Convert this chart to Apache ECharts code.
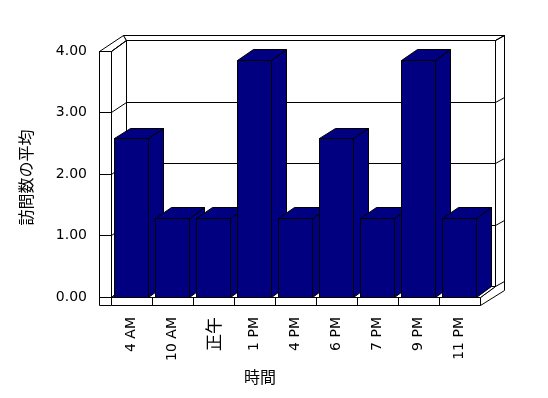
<!DOCTYPE html>
<html><head><meta charset="utf-8">
<script src="https://cdn.jsdelivr.net/npm/echarts@6/dist/echarts.min.js"></script>
<style>html,body{margin:0;padding:0;background:#fff}#c{width:548px;height:398px}</style>
</head><body><div id="c"></div>
<script>
const categories = ['4 AM', '10 AM', '正午', '1 PM', '4 PM', '6 PM', '7 PM', '9 PM', '11 PM'];
const visits = [2.57, 1.28, 1.28, 3.85, 1.28, 2.57, 1.28, 3.85, 1.28];
const yTicks = [0, 1, 2, 3, 4];
const xTitle = '時間';
const yTitle = '訪問数の平均';

const DX = 15.5, DY = -10.5;   // inner depth (floor / bars)
const DX2 = 24, DY2 = -15.5;   // outer depth (wall thickness)
const WALL = 11.5;             // left wall thickness
const FLOOR = 8.7;             // floor thickness
const BAR = '#000080';
const LATIN = '"DejaVu Sans", "Noto Sans CJK JP", sans-serif';
const CJK = '"Noto Sans CJK JP", sans-serif';

function s(v) { return Math.round(v - 0.5) + 0.5; }
function P(x, y) { return [s(x), s(y)]; }

function renderWalls(params, api) {
  const cs = params.coordSys;
  const L = cs.x, R = cs.x + cs.width, T = cs.y, B = cs.y + cs.height;
  const children = [];
  let z = 0;
  const line = (pts) => children.push({type: 'polyline', z2: z++, shape: {points: pts.map(p => P(p[0], p[1]))}, style: {stroke: '#000', lineWidth: 1, fill: null}});
  const poly = (pts) => children.push({type: 'polygon', z2: z++, shape: {points: pts.map(p => P(p[0], p[1]))}, style: {fill: '#fff', stroke: '#000', lineWidth: 1}});
  poly([[L - WALL, T], [L, T], [L, B + FLOOR], [L - WALL, B + FLOOR]]);
  poly([[L - WALL, T], [L - WALL + DX2, T + DY2], [L + DX, T + DY], [L, T]]);
  poly([[L - WALL + DX2, T + DY2], [R + DX2, T + DY2], [R + DX, T + DY], [L + DX, T + DY]]);
  poly([[R + DX, T + DY], [R + DX2, T + DY2], [R + DX2, B + FLOOR + DY2], [R, B + FLOOR], [R, B], [R + DX, B + DY]]);
  poly([[L, B], [R, B], [R, B + FLOOR], [L, B + FLOOR]]);
  poly([[L, T], [L + DX, T + DY], [L + DX, B + DY], [L, B]]);
  poly([[L + DX, T + DY], [R + DX, T + DY], [R + DX, B + DY], [L + DX, B + DY]]);
  poly([[L, B], [L + DX, B + DY], [R + DX, B + DY], [R, B]]);
  yTicks.forEach(v => {
    const y = api.coord([0, v])[1];
    line([[L - WALL, y], [L, y], [L + DX, y + DY], [R + DX, y + DY], [R + DX2, y + DY2]]);
  });
  const n = categories.length, bw = cs.width / n;
  for (let i = 1; i < n; i++) {
    const x = L + bw * i;
    line([[x, B], [x, B + FLOOR]]);
  }
  line([[R + DX, T + DY], [R + DX, B + DY]]);
  return {type: 'group', children};
}

function renderBar(params, api) {
  const i = api.value(0), v = api.value(1);
  const top = api.coord([i, v]), base = api.coord([i, 0]);
  const bw = api.size([1, 0])[0] * 0.805;
  const x0 = top[0] - bw / 2, x1 = top[0] + bw / 2, yt = top[1], yb = base[1];
  const st = {fill: BAR, stroke: '#000', lineWidth: 1};
  return {type: 'group', children: [
    {type: 'polygon', z2: i * 3, shape: {points: [P(x1, yt), P(x1 + DX, yt + DY), P(x1 + DX, yb + DY), P(x1, yb)]}, style: st},
    {type: 'polygon', z2: i * 3 + 1, shape: {points: [P(x0, yt), P(x0 + DX, yt + DY), P(x1 + DX, yt + DY), P(x1, yt)]}, style: st},
    {type: 'polygon', z2: i * 3 + 2, shape: {points: [P(x0, yt), P(x1, yt), P(x1, yb), P(x0, yb)]}, style: st}
  ]};
}

const chart = echarts.init(document.getElementById('c'), null, {renderer: 'canvas'});
chart.setOption({
  animation: false,
  backgroundColor: '#fff',
  grid: {left: 111, top: 51, right: 68, bottom: 101, containLabel: false},
  xAxis: {
    type: 'category', data: categories,
    axisLine: {show: false}, axisTick: {show: false}, splitLine: {show: false},
    axisLabel: {
      interval: 0, rotate: 90, margin: 20, fontSize: 14, fontFamily: LATIN, color: '#000',
      formatter: v => /[\u3000-\u9fff]/.test(v) ? '{cjk|' + v + '}' : v,
      rich: {cjk: {fontSize: 17, fontFamily: CJK, color: '#000'}}
    },
    name: xTitle, nameLocation: 'middle', nameGap: 70,
    nameTextStyle: {fontSize: 16, fontFamily: CJK, color: '#000', padding: [0, 71, 0, 0]}
  },
  yAxis: {
    type: 'value', min: 0, max: 4, interval: 1,
    axisLine: {show: false}, axisTick: {show: false}, splitLine: {show: false},
    axisLabel: {margin: 24, fontSize: 14, fontFamily: LATIN, color: '#000', formatter: v => v.toFixed(2)},
    name: yTitle, nameLocation: 'middle', nameGap: 77,
    nameTextStyle: {fontSize: 16, fontFamily: CJK, color: '#000', padding: [0, 7, 0, 0]}
  },
  series: [
    {type: 'custom', z: 1, clip: false, silent: true, data: [[0, 0]], renderItem: renderWalls},
    {type: 'custom', z: 2, clip: false, data: visits.map((v, i) => [i, v]), renderItem: renderBar}
  ]
});
</script>
</body></html>
